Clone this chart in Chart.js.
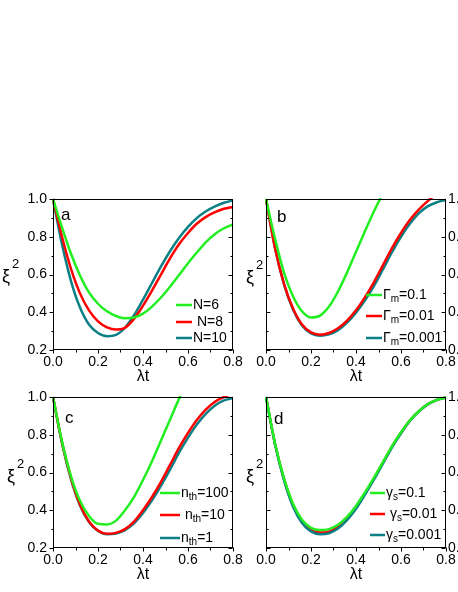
<!DOCTYPE html>
<html>
<head>
<meta charset="utf-8">
<script src="https://cdn.jsdelivr.net/npm/chart.js@4.4.0/dist/chart.umd.min.js"></script>
<style>
html, body { margin: 0; padding: 0; background: #fff; overflow: hidden; width: 458px; height: 592px; }
body { position: relative; }
canvas { position: absolute; }
</style>
</head>
<body>
<canvas id="pa" width="250" height="215" style="left:0px;top:180px"></canvas>
<canvas id="pb" width="250" height="215" style="left:228px;top:180px"></canvas>
<canvas id="pc" width="250" height="215" style="left:0px;top:378px"></canvas>
<canvas id="pd" width="250" height="215" style="left:228px;top:378px"></canvas>
<script>
// lambda*t sample points (shared by all panels)
const lambdaT = [0, 0.04, 0.08, 0.12, 0.16, 0.2, 0.24, 0.28, 0.32, 0.36, 0.4, 0.44, 0.48, 0.52, 0.56, 0.6, 0.64, 0.68, 0.72, 0.76, 0.8];
const xTicks = [0, 0.2, 0.4, 0.6, 0.8];
const xMinor = [0.1, 0.3, 0.5, 0.7];
const yTicks = [0.2, 0.4, 0.6, 0.8, 1.0];
const yMinor = [0.3, 0.5, 0.7, 0.9];

// panel a
const labelsA = ['N=6', ' N=8', 'N=10'];
const nSix   = [1.0, 0.85, 0.71, 0.595, 0.505, 0.445, 0.405, 0.38, 0.368, 0.372, 0.393, 0.43, 0.478, 0.535, 0.597, 0.66, 0.718, 0.772, 0.815, 0.845, 0.865];
const nEight = [1.0, 0.8, 0.63, 0.5, 0.41, 0.352, 0.32, 0.308, 0.318, 0.365, 0.435, 0.515, 0.6, 0.685, 0.76, 0.82, 0.87, 0.905, 0.93, 0.948, 0.958];
const nTen   = [1.0, 0.76, 0.565, 0.425, 0.335, 0.29, 0.273, 0.28, 0.318, 0.384, 0.467, 0.555, 0.643, 0.723, 0.793, 0.852, 0.9, 0.935, 0.961, 0.98, 0.993];

// panel b
const labelsB = ['Γ_m=0.1', 'Γ_m=0.01', 'Γ_m=0.001'];
const gm01   = [1.0, 0.79, 0.61, 0.485, 0.405, 0.372, 0.382, 0.43, 0.51, 0.61, 0.72, 0.83, 0.935, 1.03, 1.12, null, null, null, null, null, null];
const gm001  = [1.0, 0.74, 0.55, 0.42, 0.335, 0.293, 0.281, 0.29, 0.315, 0.355, 0.41, 0.48, 0.56, 0.65, 0.74, 0.82, 0.89, 0.945, 0.99, 1.03, null];
const gm0001 = [1.0, 0.74, 0.548, 0.415, 0.33, 0.288, 0.276, 0.283, 0.305, 0.345, 0.398, 0.463, 0.54, 0.628, 0.718, 0.8, 0.87, 0.925, 0.962, 0.983, 0.995];

// panel c
const labelsC = ['n_th=100', ' n_th=10', 'n_th=1'];
const nth100 = [1.0, 0.765, 0.58, 0.45, 0.37, 0.328, 0.325, 0.345, 0.4, 0.47, 0.56, 0.66, 0.77, 0.88, 0.99, 1.09, null, null, null, null, null];
const nth10  = [1.0, 0.76, 0.57, 0.43, 0.34, 0.292, 0.275, 0.28, 0.3, 0.34, 0.4, 0.47, 0.55, 0.64, 0.73, 0.81, 0.88, 0.935, 0.975, 1.0, 1.02];
const nth1   = [1.0, 0.755, 0.565, 0.425, 0.337, 0.29, 0.273, 0.277, 0.295, 0.33, 0.385, 0.452, 0.53, 0.615, 0.705, 0.785, 0.855, 0.912, 0.955, 0.982, 0.995];

// panel d
const labelsD = ['γ_s=0.1', ' γ_s=0.01', 'γ_s=0.001'];
const gs01   = [1.0, 0.755, 0.57, 0.435, 0.35, 0.307, 0.295, 0.3, 0.323, 0.365, 0.423, 0.495, 0.573, 0.656, 0.74, 0.813, 0.877, 0.926, 0.963, 0.985, 0.997];
const gs001  = [1.0, 0.752, 0.565, 0.427, 0.341, 0.297, 0.282, 0.287, 0.311, 0.355, 0.415, 0.489, 0.568, 0.652, 0.737, 0.811, 0.876, 0.925, 0.962, 0.985, 0.997];
const gs0001 = [1.0, 0.75, 0.56, 0.42, 0.333, 0.288, 0.273, 0.278, 0.303, 0.348, 0.408, 0.483, 0.563, 0.648, 0.733, 0.808, 0.874, 0.924, 0.962, 0.985, 0.997];

const colors = ['#22ee22', '#ff0000', '#0a7f84'];
const FAMILY = '"Liberation Sans", Arial, sans-serif';

function drawLabel(ctx, text, x, y) {
  // "base_sub rest" -> subscript
  const m = text.match(/^(.*?)_([a-z]+)(.*)$/);
  ctx.textBaseline = 'middle';
  ctx.textAlign = 'left';
  ctx.fillStyle = '#000';
  ctx.font = '14px ' + FAMILY;
  if (!m) {
    ctx.fillText(text, x, y);
    return;
  }
  ctx.fillText(m[1], x, y);
  x += ctx.measureText(m[1]).width;
  ctx.font = '10px ' + FAMILY;
  ctx.fillText(m[2], x, y + 4);
  x += ctx.measureText(m[2]).width;
  ctx.font = '14px ' + FAMILY;
  ctx.fillText(m[3], x, y);
}

const framePlugin = {
  id: 'frame',
  afterDatasetsDraw(chart, args, o) {
    const ctx = chart.ctx, a = chart.chartArea;
    const xs = chart.scales.x, ys = chart.scales.y;
    const L = Math.round(a.left) + 0.5, R = Math.round(a.right) - 0.5;
    const T = Math.round(a.top) + 0.5, B = Math.round(a.bottom) - 0.5;
    ctx.save();
    ctx.strokeStyle = '#000';
    ctx.lineWidth = 1;
    ctx.strokeRect(L, T, R - L, B - T);
    ctx.beginPath();
    const tk = (x1, y1, x2, y2) => { ctx.moveTo(x1, y1); ctx.lineTo(x2, y2); };
    xTicks.concat(xMinor).forEach((v, i) => {
      const x = Math.round(xs.getPixelForValue(v)) + 0.5;
      tk(x, B, x, B + (i < xTicks.length ? 4 : 3));
    });
    yTicks.concat(yMinor).forEach((v, i) => {
      const y = Math.round(ys.getPixelForValue(v)) + 0.5;
      const len = i < yTicks.length ? 4 : 2;
      if (o.side === 'left') tk(L - len, y, L, y);
      else tk(L, y, L + len, y);
      tk(R - len, y, R, y);
    });
    ctx.stroke();

    // panel letter
    ctx.fillStyle = '#000';
    ctx.textAlign = 'left';
    ctx.textBaseline = 'alphabetic';
    ctx.font = '17px ' + FAMILY;
    ctx.fillText(o.letter, a.left + o.letterAt[0], a.top + o.letterAt[1]);

    // y label xi^2
    ctx.font = '18px ' + FAMILY;
    ctx.fillText('ξ', a.left + o.xiAt[0], a.top + o.xiAt[1]);
    ctx.font = '13px ' + FAMILY;
    ctx.fillText('2', a.left + o.xiAt[0] + 10, a.top + o.xiAt[1] - 14);

    // legend
    chart.data.datasets.forEach((ds, i) => {
      const y = a.top + o.legendRows[i];
      ctx.strokeStyle = ds.borderColor;
      ctx.lineWidth = 2.5;
      ctx.beginPath();
      ctx.moveTo(a.left + o.legendLine[0], y);
      ctx.lineTo(a.left + o.legendLine[1], y);
      ctx.stroke();
      drawLabel(ctx, ds.label, a.left + o.legendLine[1] + 1, y);
    });
    ctx.restore();
  }
};

function panel(id, series, labels, side, opts) {
  const order = opts.order || [0, 1, 2];
  const font = { family: FAMILY, size: 14 };
  new Chart(document.getElementById(id), {
    type: 'line',
    data: {
      datasets: series.map((s, i) => ({
        label: labels[i],
        data: lambdaT.map((t, k) => ({ x: t, y: s[k] })),
        borderColor: colors[i],
        borderWidth: 2.5,
        pointRadius: 0,
        fill: false,
        cubicInterpolationMode: 'monotone',
        clip: 1,
        order: order[i]
      }))
    },
    options: {
      responsive: false,
      animation: false,
      devicePixelRatio: 1,
      layout: { padding: { top: 19, bottom: 0, left: side === 'left' ? 0 : 38, right: side === 'left' ? 17 : 0 } },
      plugins: {
        legend: { display: false },
        tooltip: { enabled: false },
        frame: Object.assign({ side: side }, opts)
      },
      scales: {
        x: {
          type: 'linear', min: 0, max: 0.8,
          afterBuildTicks: s => { s.ticks = xTicks.map(v => ({ value: v })); },
          afterFit: s => { s.height = 45; },
          grid: { display: false, drawTicks: false },
          border: { display: false },
          ticks: { padding: 4, color: '#000', font: font, maxRotation: 0, autoSkip: false, callback: v => v.toFixed(1) },
          title: { display: true, text: 'λt', color: '#000', font: { family: FAMILY, size: 16 }, padding: { top: 0, bottom: 9 } }
        },
        y: {
          type: 'linear', position: side, min: 0.2, max: 1.0,
          afterBuildTicks: s => { s.ticks = yTicks.map(v => ({ value: v })); },
          afterFit: s => { s.width = side === 'left' ? 53 : 32; },
          grid: { display: false, drawTicks: false },
          border: { display: false },
          ticks: { padding: side === 'left' ? 6 : 2, color: '#000', font: font, autoSkip: false, callback: v => v.toFixed(1) }
        }
      }
    },
    plugins: [framePlugin]
  });
}

panel('pa', [nSix, nEight, nTen], labelsA, 'left',
  { letter: 'a', letterAt: [8, 21], xiAt: [-51, 83], legendLine: [123, 139], legendRows: [106, 123, 139] });
panel('pb', [gm01, gm001, gm0001], labelsB, 'right',
  { letter: 'b', letterAt: [11, 23], xiAt: [-20, 84], legendLine: [100, 116], legendRows: [96, 117, 139] });
panel('pc', [nth100, nth10, nth1], labelsC, 'left',
  { letter: 'c', letterAt: [12, 26], xiAt: [-46, 85], legendLine: [107, 127], legendRows: [96, 118, 141] });
panel('pd', [gs01, gs001, gs0001], labelsD, 'right',
  { letter: 'd', letterAt: [8, 27], xiAt: [-20, 85], legendLine: [104, 119], legendRows: [96, 117, 138], order: [0, 2, 1] });
</script>
</body>
</html>
